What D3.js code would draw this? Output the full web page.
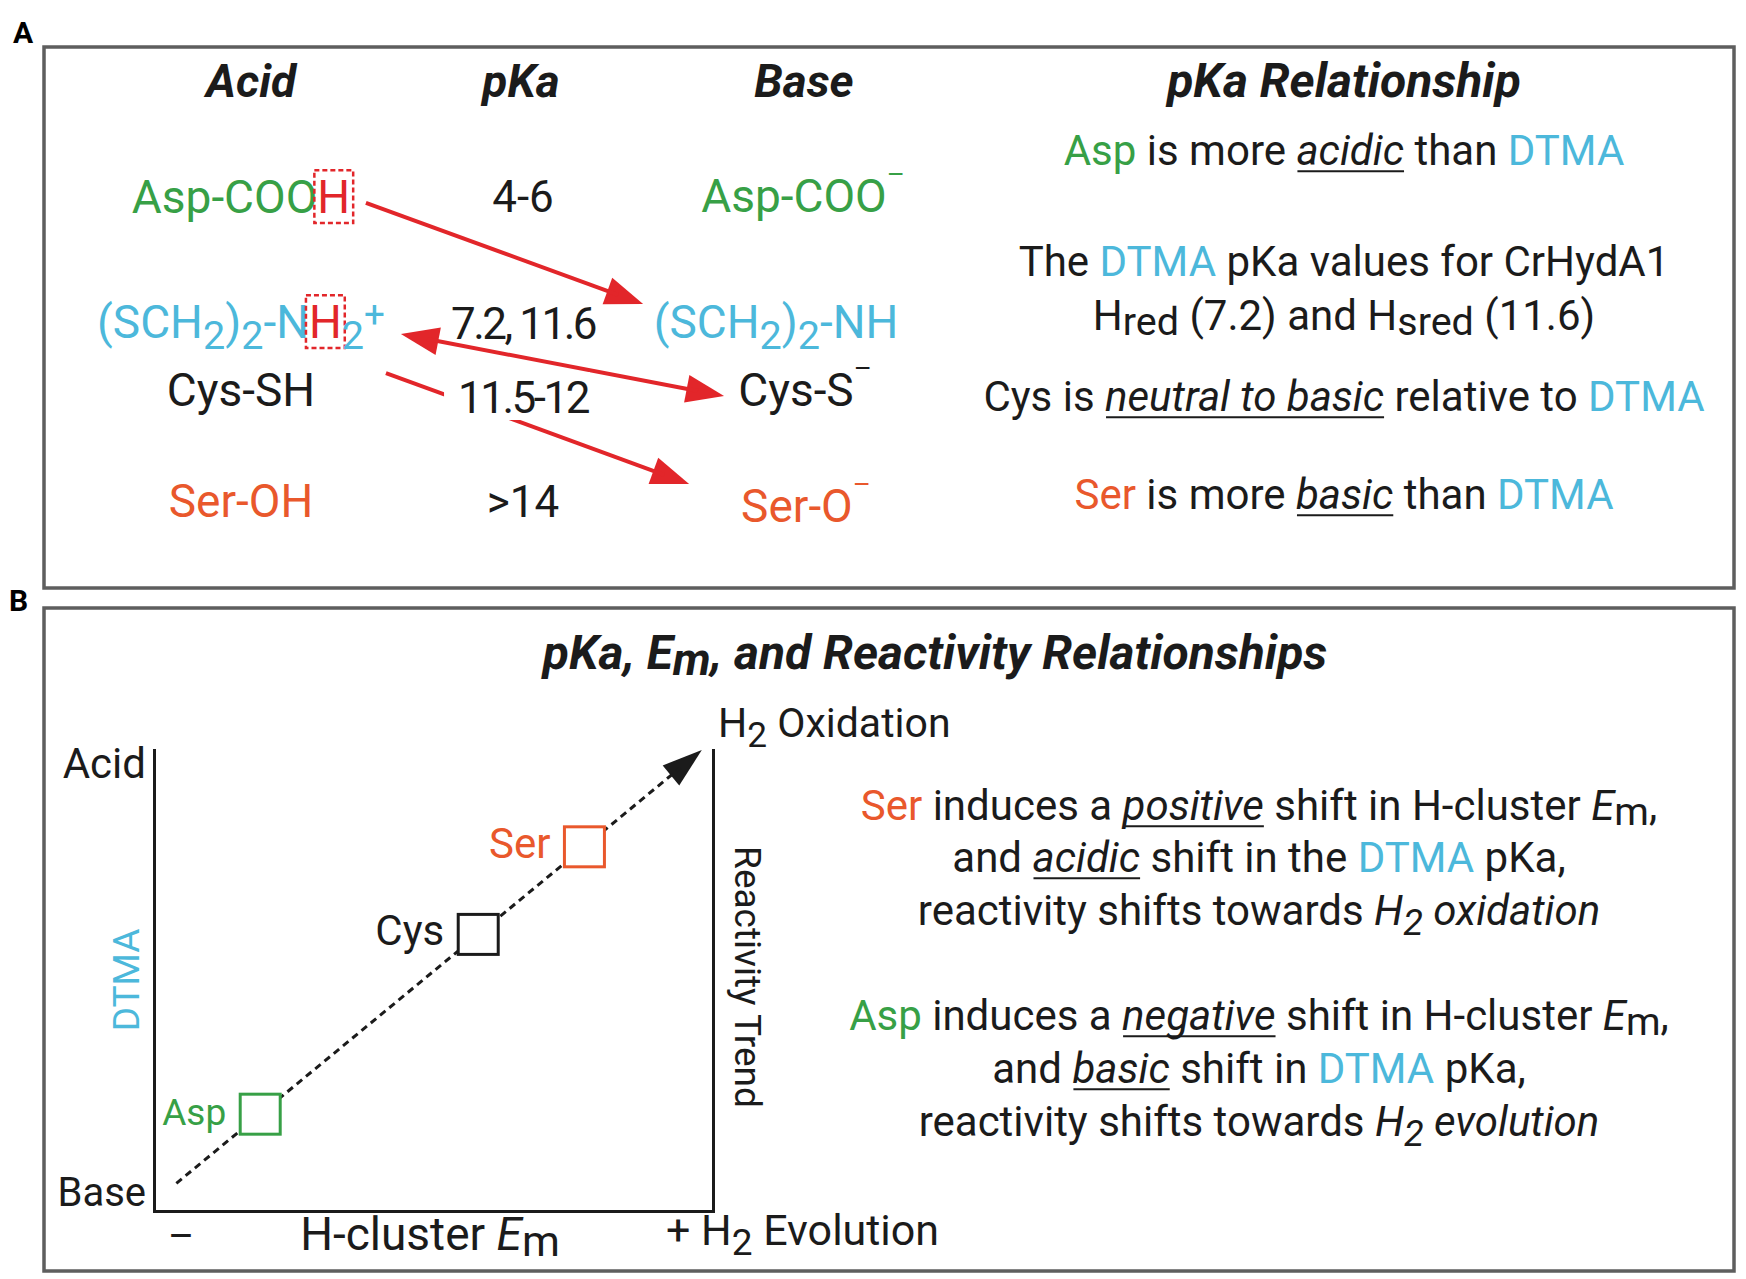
<!DOCTYPE html>
<html>
<head>
<meta charset="utf-8">
<script src="https://cdn.jsdelivr.net/npm/d3@7"></script>
<style>
  body { margin: 0; background: #fff; }
  text { font-family: Roboto, "Liberation Sans", sans-serif; white-space: pre; }
</style>
</head>
<body>
<svg id="chart"></svg>
<script>
var width = 1746;
var height = 1279;

// ---- panel A data ----
var headers = ['Acid', 'pKa', 'Base', 'pKa Relationship'];
var acidForms = [
    [['Asp-COO', 'g'], ['H', 'rb']],
    [['(SCH', 'c'], ['2', 'cs'], [')', 'c'], ['2', 'cs'], ['-N', 'c'], ['H', 'rb'], ['2', 'cs'], ['+', 'cp']],
    [['Cys-SH', '']],
    [['Ser-OH', 'o']]
];
var pkaValues = ['4-6', '7.2, 11.6', '11.5-12', '>14'];
var baseForms = [
    [['Asp-COO', 'g'], ['\u2013', 'gm']],
    [['(SCH', 'c'], ['2', 'cs'], [')', 'c'], ['2', 'cs'], ['-NH', 'c']],
    [['Cys-S', ''], ['\u2013', 'm']],
    [['Ser-O', 'o'], ['\u2013', 'om']]
];
var relationNotes = [
    [['Asp', 'g'], [' is more ', ''], ['acidic', 'iu'], [' than ', ''], ['DTMA', 'c']],
    [['The ', ''], ['DTMA', 'c'], [' pKa values for CrHydA1', '']],
    [['H', ''], ['red', 'l'], [' (7.2) and H', ''], ['sred', 'l'], [' (11.6)', '']],
    [['Cys is ', ''], ['neutral to basic', 'iu'], [' relative to ', ''], ['DTMA', 'c']],
    [['Ser', 'o'], [' is more ', ''], ['basic', 'iu'], [' than ', ''], ['DTMA', 'c']]
];
// proton transfer arrows in table units: [fromCol, fromRow, toCol, toRow, bothEnds]
var protonArrows = [
    [0.443, -0.10, 1.426, 0.898, false],
    [1.713, 1.806, 0.567, 1.194, true],
    [0.514, 1.579, 1.589, 2.674, false]
];

// ---- panel B data ----
var residues = ['Asp', 'Cys', 'Ser'];
var emPosition = [19, 58, 77];
var pkaPosition = [21, 60, 79];
var trendFrom = [4, 6];
var trendTo = [98, 100];
var shiftNotes = [
    [['Ser', 'o'], [' induces a ', ''], ['positive', 'iu'], [' shift in H-cluster ', ''], ['E', 'i'], ['m', 'l'], [',', '']],
    [['and ', ''], ['acidic', 'iu'], [' shift in the ', ''], ['DTMA', 'c'], [' pKa,', '']],
    [['reactivity shifts towards ', ''], ['H', 'i'], ['2', 'is'], [' oxidation', 'i']],
    [['Asp', 'g'], [' induces a ', ''], ['negative', 'iu'], [' shift in H-cluster ', ''], ['E', 'i'], ['m', 'l'], [',', '']],
    [['and ', ''], ['basic', 'iu'], [' shift in ', ''], ['DTMA', 'c'], [' pKa,', '']],
    [['reactivity shifts towards ', ''], ['H', 'i'], ['2', 'is'], [' evolution', 'i']]
];

var colors = { g: '#37a046', c: '#4cb8db', o: '#e9582c', r: '#e2262a', k: '#1b1b1b' };

var svg = d3.select('#chart').attr('width', width).attr('height', height);

function segColor(f) {
    if (f.indexOf('g') >= 0) return colors.g;
    if (f.indexOf('c') >= 0) return colors.c;
    if (f.indexOf('o') >= 0) return colors.o;
    if (f.indexOf('r') >= 0) return colors.r;
    return colors.k;
}

// lays out a run of styled pieces and anchors it at x,y (baseline)
function rich(parent, x, y, segs, opt) {
    var size = opt.size;
    var g = parent.append('g');
    var cx = 0;
    segs.forEach(function(s) {
        var f = s[1] || '';
        var fs = size, dy = 0;
        if (f.indexOf('s') >= 0) { fs = size * 0.86; dy = size * 0.24; }
        if (f.indexOf('p') >= 0) { fs = size * 0.8; dy = -size * 0.24; }
        if (f.indexOf('l') >= 0) { fs = size * 0.94; dy = size * 0.12; }
        if (f.indexOf('m') >= 0) { fs = size * 0.6; dy = -size * 0.6; }
        var col = segColor(f);
        var t = g.append('text')
            .attr('x', cx)
            .attr('y', dy)
            .attr('font-size', fs)
            .attr('font-weight', opt.weight || 400)
            .attr('font-style', (opt.italic || f.indexOf('i') >= 0) ? 'italic' : 'normal')
            .attr('fill', col)
            .text(s[0]);
        if (opt.spacing) t.attr('letter-spacing', opt.spacing);
        var w = t.node().getComputedTextLength();
        if (f.indexOf('u') >= 0) {
            g.append('line')
                .attr('x1', cx + 1).attr('x2', cx + w)
                .attr('y1', size * 0.15).attr('y2', size * 0.15)
                .attr('stroke', colors.k).attr('stroke-width', 2);
        }
        if (f.indexOf('b') >= 0) {
            g.append('rect')
                .attr('x', cx - 3).attr('y', -size * 0.93)
                .attr('width', w + 6).attr('height', size * 1.15)
                .attr('fill', 'none').attr('stroke', colors.r)
                .attr('stroke-width', 2.5).attr('stroke-dasharray', '5,3');
        }
        cx += w;
    });
    var off = opt.anchor === 'middle' ? cx / 2 : opt.anchor === 'end' ? cx : 0;
    g.attr('transform', 'translate(' + (x - off) + ',' + y + ')');
    return g;
}

function arrowHead(g, x1, y1, x2, y2, len, hw, color) {
    var a = Math.atan2(y2 - y1, x2 - x1);
    var bx = x2 - len * Math.cos(a), by = y2 - len * Math.sin(a);
    var px = -Math.sin(a) * hw, py = Math.cos(a) * hw;
    g.append('polygon')
        .attr('points', [[x2, y2], [bx + px, by + py], [bx - px, by - py]].map(function(p) { return p.join(','); }).join(' '))
        .attr('fill', color);
    return [x2 - len * 0.7 * Math.cos(a), y2 - len * 0.7 * Math.sin(a)];
}

// ---- panel frames ----
svg.append('rect').attr('x', 44).attr('y', 47).attr('width', 1690).attr('height', 541)
    .attr('fill', 'none').attr('stroke', '#5e5e5e').attr('stroke-width', 3.5);
svg.append('rect').attr('x', 44).attr('y', 608).attr('width', 1690).attr('height', 663)
    .attr('fill', 'none').attr('stroke', '#5e5e5e').attr('stroke-width', 3.5);
svg.append('text').attr('x', 13).attr('y', 43).attr('font-size', 30).attr('font-weight', 700).text('A');
svg.append('text').attr('x', 9).attr('y', 611).attr('font-size', 30).attr('font-weight', 700).text('B');

// ---- panel A ----
var colX = d3.scaleLinear().domain([0, 2]).range([241, 805]);
var rowY = d3.scaleLinear().domain([0, 3]).range([213, 517]);
var headerX = [251, 521, 804, 1344];
var headerSize = [46, 46, 46, 48];
var acidRowY = [213, 338, 406, 517];
var pkaRowY = [212, 339, 413, 517];
var baseRowY = [212, 338, 406, 522];
var baseColX = [803, 776, 805, 806];
var noteY = [165, 276, 330, 411, 509];

var panelA = svg.append('g');

headers.forEach(function(h, i) {
    rich(panelA, headerX[i], 97, [[h, '']], { size: headerSize[i], anchor: 'middle', weight: 700, italic: true });
});

var arrowLayer = panelA.append('g');
protonArrows.forEach(function(d) {
    var x1 = colX(d[0]), y1 = rowY(d[1]), x2 = colX(d[2]), y2 = rowY(d[3]);
    var e = arrowHead(arrowLayer, x1, y1, x2, y2, 38, 14, colors.r);
    var s = [x1, y1];
    if (d[4]) s = arrowHead(arrowLayer, x2, y2, x1, y1, 38, 14, colors.r);
    arrowLayer.append('line')
        .attr('x1', s[0]).attr('y1', s[1]).attr('x2', e[0]).attr('y2', e[1])
        .attr('stroke', colors.r).attr('stroke-width', 4);
});

acidForms.forEach(function(segs, i) {
    rich(panelA, colX(0), acidRowY[i], segs, { size: 46, anchor: 'middle' });
});
pkaValues.forEach(function(v, i) {
    var tight = v.indexOf('11') >= 0;
    var g = rich(panelA, colX(1), pkaRowY[i], [[v, '']], { size: 44, anchor: 'middle', spacing: tight ? -2.5 : 0 });
    if (v === '11.5-12') {
        var bb = g.node().getBBox();
        g.insert('rect', ':first-child')
            .attr('x', bb.x - 14).attr('y', bb.y)
            .attr('width', bb.width + 14).attr('height', bb.height - 4)
            .attr('fill', '#fff');
    }
});
baseForms.forEach(function(segs, i) {
    rich(panelA, baseColX[i], baseRowY[i], segs, { size: 46, anchor: 'middle' });
});
relationNotes.forEach(function(segs, i) {
    rich(panelA, 1344, noteY[i], segs, { size: 42, anchor: 'middle' });
});

// ---- panel B ----
var panelB = svg.append('g');
rich(panelB, 935, 669, [['pKa, E', ''], ['m', 'l'], [', and Reactivity Relationships', '']],
    { size: 48, anchor: 'middle', weight: 700, italic: true });

var x = d3.scaleLinear().domain([0, 100]).range([154, 713]);
var y = d3.scaleLinear().domain([0, 100]).range([1211, 750]);

panelB.append('g').attr('class', 'axis')
    .attr('transform', 'translate(0,' + y(0) + ')')
    .call(d3.axisBottom(x).tickValues([]).tickSizeOuter(0));
panelB.append('g').attr('class', 'axis')
    .attr('transform', 'translate(' + x(0) + ',0)')
    .call(d3.axisLeft(y).tickValues([]).tickSizeOuter(0));
panelB.append('g').attr('class', 'axis')
    .attr('transform', 'translate(' + x(100) + ',0)')
    .call(d3.axisRight(y).tickValues([]).tickSizeOuter(0));
panelB.selectAll('.axis .domain')
    .attr('stroke', colors.k).attr('stroke-width', 3).attr('stroke-linecap', 'square');

// trend arrow
var tx1 = x(trendFrom[0]), ty1 = y(trendFrom[1]), tx2 = x(trendTo[0]), ty2 = y(trendTo[1]);
var te = arrowHead(panelB, tx1, ty1, tx2, ty2, 40, 13, colors.k);
panelB.append('line')
    .attr('x1', tx1).attr('y1', ty1).attr('x2', te[0]).attr('y2', te[1])
    .attr('stroke', colors.k).attr('stroke-width', 3).attr('stroke-dasharray', '7,5');

var resColor = [colors.g, colors.k, colors.o];
var resSize = [37, 42, 42];
var box = 40;
panelB.selectAll('rect.res')
    .data(residues)
    .join('rect')
    .attr('class', 'res')
    .attr('x', function(d, i) { return x(emPosition[i]) - box / 2; })
    .attr('y', function(d, i) { return y(pkaPosition[i]) - box / 2; })
    .attr('width', box).attr('height', box)
    .attr('fill', '#fff')
    .attr('stroke', function(d, i) { return resColor[i]; })
    .attr('stroke-width', 3);
panelB.selectAll('text.res')
    .data(residues)
    .join('text')
    .attr('class', 'res')
    .attr('x', function(d, i) { return x(emPosition[i]) - box / 2 - 14; })
    .attr('y', function(d, i) { return y(pkaPosition[i]) + 11; })
    .attr('text-anchor', 'end')
    .attr('font-size', function(d, i) { return resSize[i]; })
    .attr('fill', function(d, i) { return resColor[i]; })
    .text(function(d) { return d; });

// axis labels
panelB.append('text').attr('x', 146).attr('y', 778).attr('text-anchor', 'end')
    .attr('font-size', 42).attr('fill', colors.k).text('Acid');
panelB.append('text').attr('x', 146).attr('y', 1206).attr('text-anchor', 'end')
    .attr('font-size', 40).attr('fill', colors.k).text('Base');
panelB.append('text').attr('transform', 'translate(139,980) rotate(-90)')
    .attr('text-anchor', 'middle').attr('font-size', 37).attr('fill', colors.c).text('DTMA');
panelB.append('text').attr('transform', 'translate(735,977) rotate(90)')
    .attr('text-anchor', 'middle').attr('font-size', 37).attr('fill', colors.k).text('Reactivity Trend');
panelB.append('text').attr('x', 181).attr('y', 1250).attr('text-anchor', 'middle')
    .attr('font-size', 40).attr('fill', colors.k).text('\u2013');
rich(panelB, 430, 1250, [['H-cluster ', ''], ['E', 'i'], ['m', 'l']], { size: 46, anchor: 'middle' });
rich(panelB, 666, 1245, [['+ H', ''], ['2', 's'], [' Evolution', '']], { size: 43, anchor: 'start' });
rich(panelB, 718, 737, [['H', ''], ['2', 's'], [' Oxidation', '']], { size: 41, anchor: 'start' });

var shiftY = [820, 872, 925, 1030, 1083, 1136];
shiftNotes.forEach(function(segs, i) {
    rich(panelB, 1259, shiftY[i], segs, { size: 42, anchor: 'middle' });
});
</script>
</body>
</html>
